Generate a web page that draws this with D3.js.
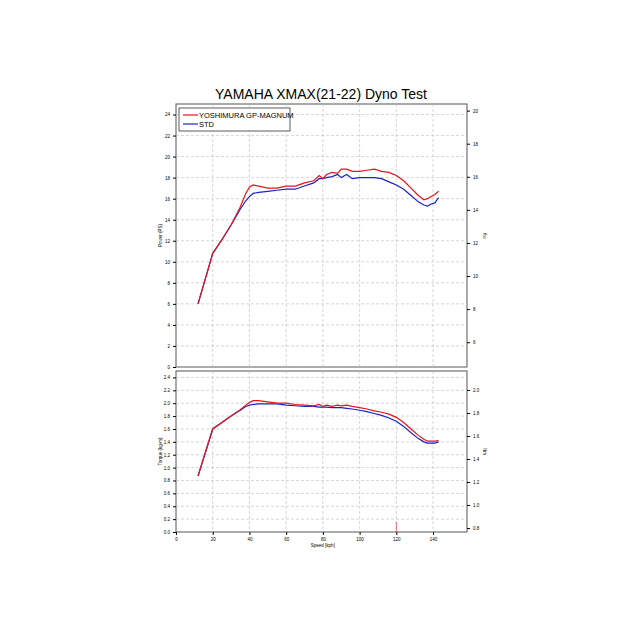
<!DOCTYPE html><html><head><script src="https://cdn.jsdelivr.net/npm/d3@7"></script>
<style>body{margin:0;background:#fff}text{font-family:Arial,"Liberation Sans",sans-serif}</style></head><body>
<svg id="c" width="640" height="640"></svg>
<script>
const seriesNames=["YOSHIMURA GP-MAGNUM","STD"];
const colors=["#e8141c","#1a22c8"];
const speed=[12,20,25,30,35,38,40,42,45,50,55,60,65,70,75,78,80,82,85,88,90,93,96,100,104,108,112,116,120,124,128,132,135,137,139,141,143];
const powerY=[6,10.8,12.1,13.5,15.2,16.5,17.1,17.3,17.2,17.0,17.0,17.2,17.2,17.5,17.7,18.2,17.9,18.3,18.5,18.4,18.8,18.8,18.6,18.6,18.7,18.8,18.6,18.5,18.2,17.7,17.0,16.3,15.9,16.0,16.2,16.4,16.7];
const powerS=[6,10.8,12.1,13.5,15.0,15.8,16.2,16.5,16.6,16.7,16.8,16.9,16.9,17.2,17.5,17.9,17.9,18.0,18.1,18.3,18.0,18.3,17.9,18.0,18.0,18.0,17.9,17.6,17.3,16.9,16.3,15.7,15.4,15.3,15.5,15.6,16.1];
const torqueY=[0.87,1.6,1.7,1.8,1.9,1.97,2.01,2.04,2.04,2.02,2.0,2.0,1.98,1.97,1.96,1.98,1.95,1.97,1.95,1.97,1.96,1.97,1.95,1.93,1.91,1.88,1.86,1.83,1.78,1.7,1.6,1.5,1.44,1.41,1.41,1.41,1.42];
const torqueS=[0.87,1.6,1.7,1.8,1.89,1.95,1.97,1.98,1.99,1.99,1.99,1.97,1.96,1.95,1.95,1.94,1.94,1.94,1.93,1.93,1.93,1.92,1.91,1.89,1.87,1.84,1.81,1.77,1.72,1.64,1.54,1.45,1.40,1.38,1.38,1.38,1.40];
const xTicks=[0,20,40,60,80,100,120,140];
const svg=d3.select("#c");
const L=176,R=467;
const x=d3.scaleLinear().domain([0,158.5]).range([L,R]);
svg.append("text").attr("x",321).attr("y",99).attr("text-anchor","middle").attr("font-size",14).text("YAMAHA XMAX(21-22) Dyno Test");
function panel(top,bot,dom,rdom,lt,rt,ys,cols,lab,rlab,fmt){
 const y=d3.scaleLinear().domain(dom).range([bot,top]);
 const yr=d3.scaleLinear().domain(rdom).range([bot,top]);
 const g=svg.append("g");
 g.append("rect").attr("x",L).attr("y",top).attr("width",R-L).attr("height",bot-top).attr("fill","#fff").attr("stroke","#555");
 xTicks.slice(1).forEach(t=>g.append("line").attr("x1",x(t)).attr("x2",x(t)).attr("y1",top).attr("y2",bot).attr("stroke","#bbb").attr("stroke-dasharray","3,2").attr("stroke-width",0.6));
 lt.forEach(t=>g.append("line").attr("x1",L).attr("x2",R).attr("y1",y(t)).attr("y2",y(t)).attr("stroke","#bbb").attr("stroke-dasharray","3,2").attr("stroke-width",0.6));
 g.append("g").attr("transform",`translate(${L},0)`).call(d3.axisLeft(y).tickValues(lt).tickFormat(fmt).tickSize(3)).call(a=>{a.selectAll("text").attr("font-size",4.5);a.select(".domain").remove();});
 g.append("g").attr("transform",`translate(${R},0)`).call(d3.axisRight(yr).tickValues(rt).tickFormat(fmt).tickSize(3)).call(a=>{a.selectAll("text").attr("font-size",4.5);a.select(".domain").remove();});
 g.append("text").attr("transform",`translate(${L-14},${(top+bot)/2}) rotate(-90)`).attr("text-anchor","middle").attr("font-size",4.5).text(lab);
 g.append("text").attr("transform",`translate(${R+16},${(top+bot)/2}) rotate(90)`).attr("text-anchor","middle").attr("font-size",4.5).text(rlab);
 const line=d3.line().x((d,i)=>x(speed[i])).y(d=>y(d));
 ys.forEach((s,k)=>g.append("path").attr("d",line(s)).attr("fill","none").attr("stroke",cols[k]).attr("stroke-width",1.2));
 return g;
}
const f=d3.format(".1f");
panel(104,367,[0,25],[4.5,20.4],d3.range(0,25,2),d3.range(6,21,2),[powerS,powerY],[colors[1],colors[0]],"Power (PS)","Kw",d3.format("d"));
const g2=panel(371,532,[0,2.5],[0.765,2.165],d3.range(0,2.41,0.2),[0.8,1.0,1.2,1.4,1.6,1.8,2.0],[torqueS,torqueY],[colors[1],colors[0]],"Torque (kg-m)","Nm",f);
g2.append("line").attr("x1",x(120)).attr("x2",x(120)).attr("y1",522).attr("y2",532).attr("stroke","#e8141c").attr("stroke-width",0.6);
svg.append("g").attr("transform","translate(0,532)").call(d3.axisBottom(x).tickValues(xTicks).tickSize(3)).call(a=>{a.selectAll("text").attr("font-size",4.5);a.select(".domain").remove();});
svg.append("text").attr("x",x(80)).attr("y",547).attr("text-anchor","middle").attr("font-size",4.5).text("Speed [kph]");
const lg=svg.append("g");
lg.append("rect").attr("x",179).attr("y",108).attr("width",111).attr("height",23).attr("fill","#fff").attr("stroke","#333").attr("stroke-width",0.8);
seriesNames.forEach((n,i)=>{lg.append("line").attr("x1",183).attr("x2",198).attr("y1",115+i*9).attr("y2",115+i*9).attr("stroke",colors[i]).attr("stroke-width",1.2);
lg.append("text").attr("x",199).attr("y",118+i*9).attr("font-size",7.5).text(n);});
</script></body></html>
